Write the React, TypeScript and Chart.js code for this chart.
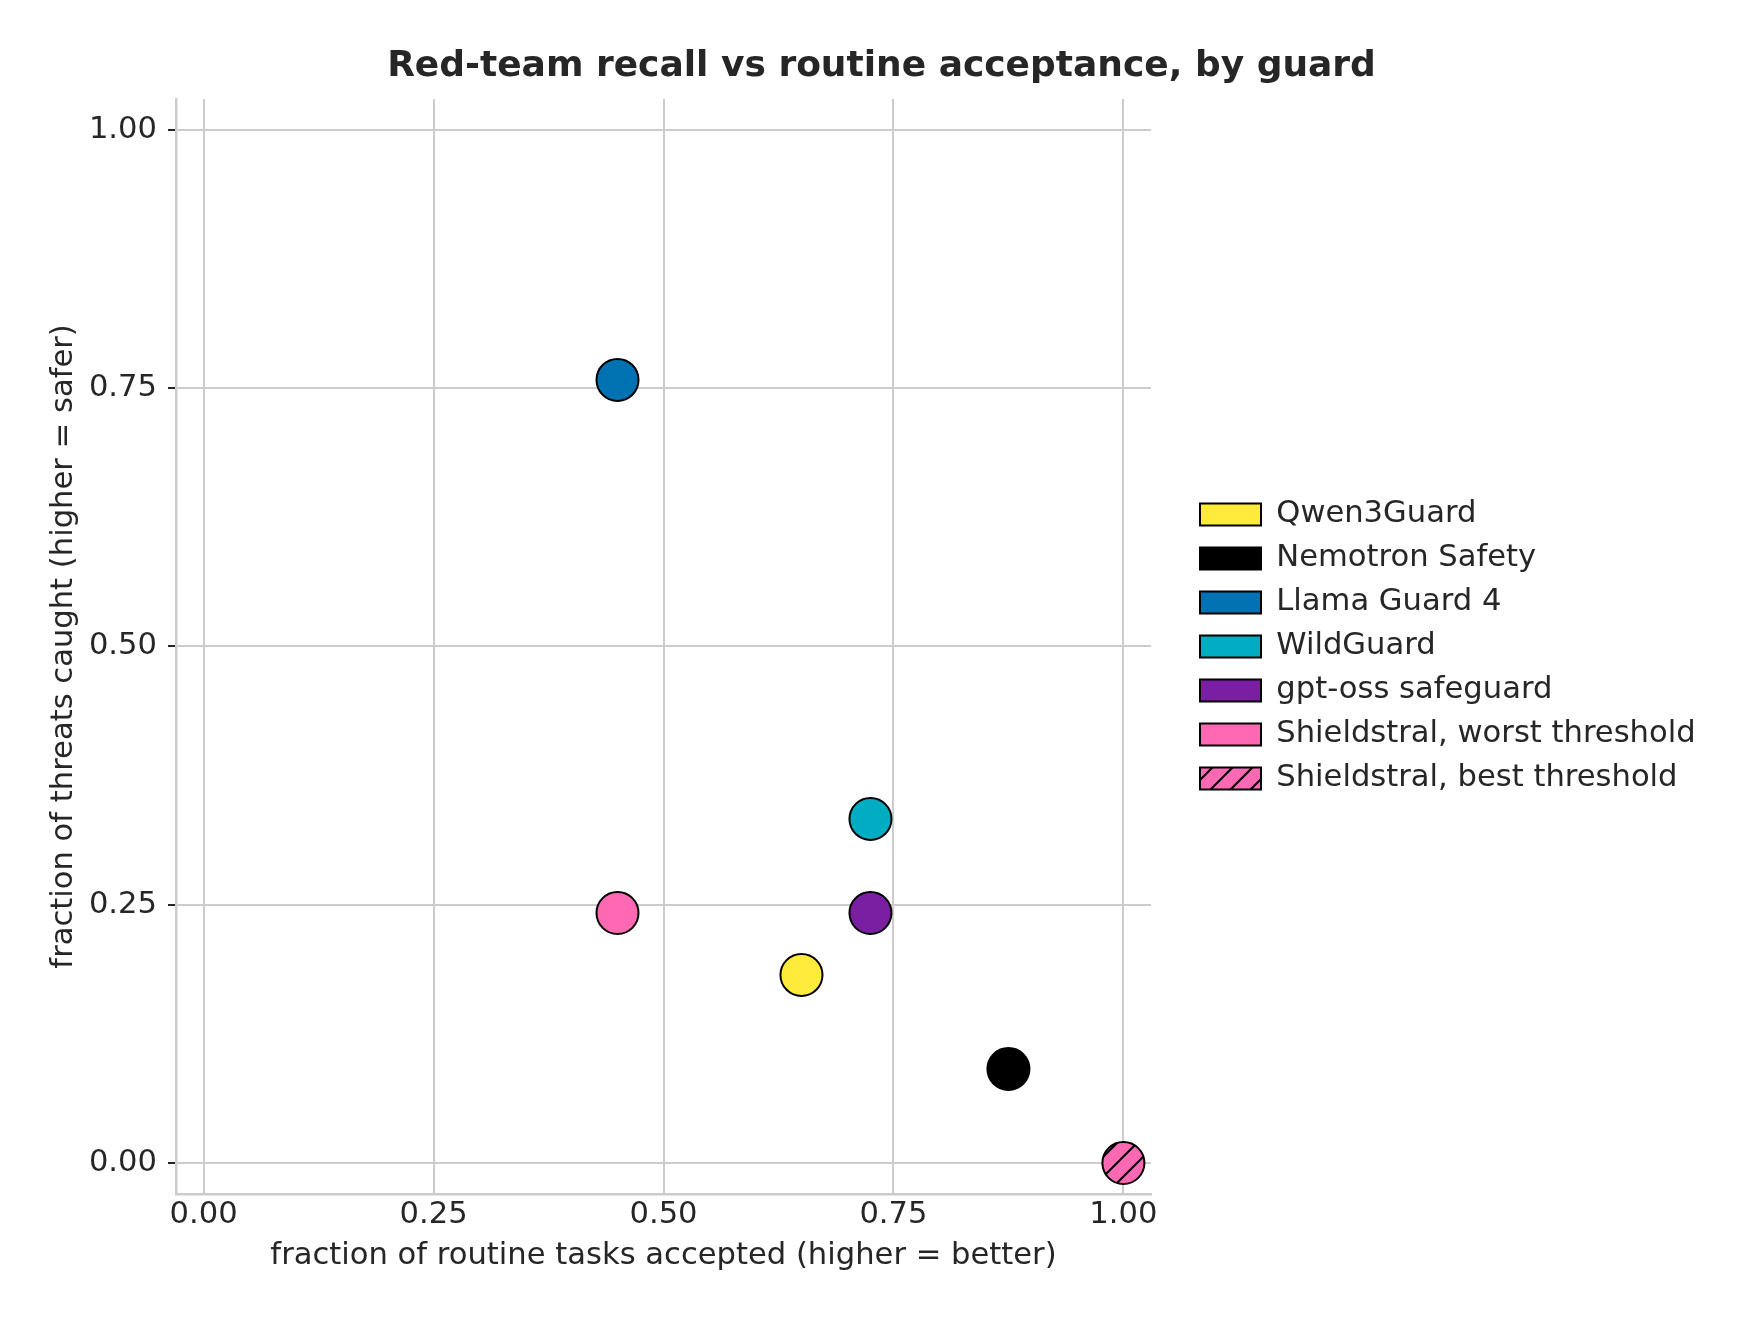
import Chart from "chart.js/auto";
import {useRef, useEffect} from "react";

// guards, in legend order
const guards = [
  "Qwen3Guard",
  "Nemotron Safety",
  "Llama Guard 4",
  "WildGuard",
  "gpt-oss safeguard",
  "Shieldstral, worst threshold",
  "Shieldstral, best threshold",
];
const routineAccepted = [0.65, 0.875, 0.45, 0.725, 0.725, 0.45, 1.0];
const threatsCaught = [0.182, 0.091, 0.758, 0.333, 0.242, 0.242, 0.0];
const guardColors = ["#FFEB3B", "#000000", "#0072B2", "#00ACC1", "#7B1FA2", "#FF69B4", "#FF69B4"];
const guardHatched = [false, false, false, false, false, false, true];

const xTicks = [0, 0.25, 0.5, 0.75, 1.0];
const yTicks = [0, 0.25, 0.5, 0.75, 1.0];

const TEXT = "#262626";
const GRID = "#cccccc";
const PLOT_RIGHT = 1151; // right edge of the axes box
const LEGEND_GAP = 35.6;

// "//" hatch like matplotlib
const makeHatch = (color: string) => {
  const s = 20;
  const c = document.createElement("canvas");
  c.width = s;
  c.height = s;
  const g = c.getContext("2d")!;
  g.fillStyle = color;
  g.fillRect(0, 0, s, s);
  g.strokeStyle = "#000";
  g.lineWidth = 2;
  g.beginPath();
  g.moveTo(0, s);
  g.lineTo(s, 0);
  g.moveTo(-2, 2);
  g.lineTo(2, -2);
  g.moveTo(s - 2, s + 2);
  g.lineTo(s + 2, s - 2);
  g.stroke();
  return g.createPattern(c, "repeat")!;
};

const GuardChart = () => {
  const canvasRef = useRef<HTMLCanvasElement | null>(null);

  useEffect(() => {
    const canvas = canvasRef.current;
    if (!canvas) return;
    Chart.defaults.font.family = "'DejaVu Sans', sans-serif";
    Chart.defaults.color = TEXT;

    const datasets = guards.map((name, i) => {
      const fill = guardHatched[i] ? makeHatch(guardColors[i]) : guardColors[i];
      return {
        label: name,
        data: [{x: routineAccepted[i], y: threatsCaught[i]}],
        backgroundColor: fill,
        borderColor: "#000000",
        borderWidth: 2,
        pointRadius: 21,
        pointHoverRadius: 21,
        clip: false as const,
      };
    });

    const chart = new Chart(canvas, {
      type: "scatter",
      data: {datasets},
      options: {
        responsive: true,
        maintainAspectRatio: false,
        animation: false,
        events: [],
        layout: {padding: 0},
        plugins: {
          title: {
            display: true,
            text: "Red-team recall vs routine acceptance, by guard",
            color: TEXT,
            font: {size: 36, weight: "bold"},
            padding: {top: 45.3, bottom: 10.4},
          },
          legend: {
            position: "right",
            fullSize: false,
            maxWidth: 800,
            labels: {
              boxWidth: 61,
              boxHeight: 22,
              padding: 13.4,
              color: TEXT,
              font: {size: 30.6},
            },
          },
          tooltip: {enabled: false},
        },
        scales: {
          x: {
            type: "linear",
            min: -0.03,
            max: 1.03,
            afterBuildTicks: (s: any) => {
              s.ticks = xTicks.map((v) => ({value: v}));
            },
            afterFit: (s: any) => {
              s.height = 129;
            },
            ticks: {
              font: {size: 30.6},
              color: TEXT,
              padding: 2.6,
              callback: (v: any) => Number(v).toFixed(2),
            },
            grid: {color: GRID, lineWidth: 2, drawTicks: false},
            border: {color: GRID, width: 2.5},
            title: {
              display: true,
              text: "fraction of routine tasks accepted (higher = better)",
              color: TEXT,
              font: {size: 30.6},
              padding: {top: 0, bottom: 48.6},
            },
          },
          y: {
            type: "linear",
            min: -0.03,
            max: 1.03,
            afterBuildTicks: (s: any) => {
              s.ticks = yTicks.map((v) => ({value: v}));
            },
            afterFit: (s: any) => {
              s.width = 176;
            },
            ticks: {
              font: {size: 30.6},
              color: TEXT,
              padding: 11,
              callback: (v: any) => Number(v).toFixed(2),
            },
            grid: {color: GRID, lineWidth: 2, tickLength: 8, tickColor: TEXT, tickWidth: 2},
            border: {color: GRID, width: 2.5},
            title: {
              display: true,
              text: "fraction of threats caught (higher = safer)",
              color: TEXT,
              font: {size: 30.6},
              padding: {top: 45.6, bottom: 0},
            },
          },
          // empty axis between plot and legend
          gap: {
            type: "linear",
            position: "right",
            display: true,
            ticks: {display: false},
            grid: {display: false},
            border: {display: false},
            afterFit: (s: any) => {
              s.width = LEGEND_GAP;
            },
          },
          // empty axis right of the legend, takes what is left
          edge: {
            type: "linear",
            position: "right",
            weight: 2000,
            display: true,
            ticks: {display: false},
            grid: {display: false},
            border: {display: false},
            afterFit: (s: any) => {
              const lw = s.chart.legend ? s.chart.legend.width : 0;
              s.width = Math.max(0, s.chart.width - PLOT_RIGHT - LEGEND_GAP - lw);
            },
          },
        },
      } as any,
    });

    return () => {
      chart.destroy();
    };
  }, []);

  return (
    <div style={{position: "absolute", left: 0, top: 0, width: 1763, height: 1323, background: "#fff"}}>
      <canvas ref={canvasRef}></canvas>
    </div>
  );
};

export default function App() {
  return <GuardChart />;
}
